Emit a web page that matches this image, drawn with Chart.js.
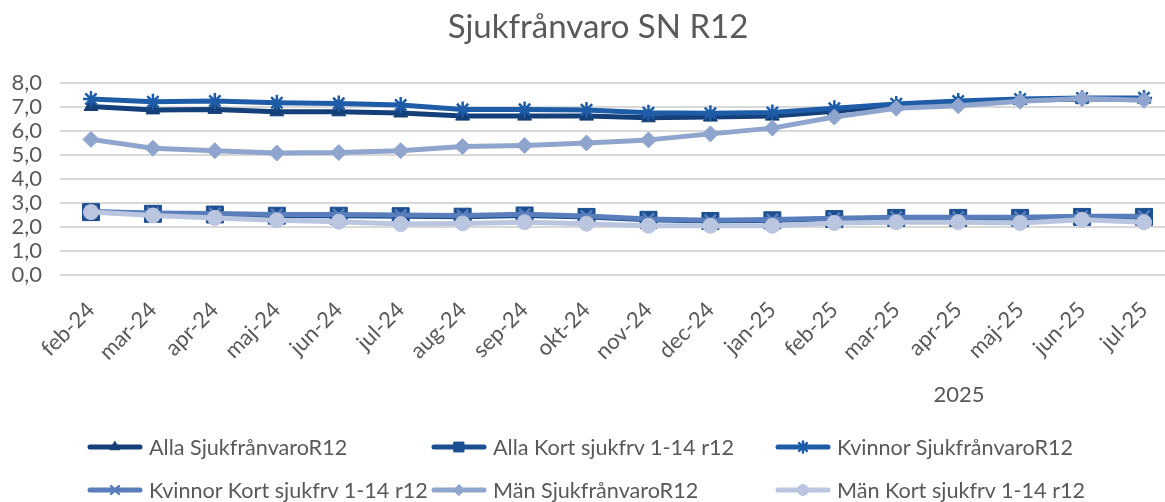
<!DOCTYPE html>
<html>
<head>
<meta charset="utf-8">
<script src="https://cdn.jsdelivr.net/npm/chart.js@4.4.1/dist/chart.umd.min.js"></script>
<style>
  html, body { margin:0; padding:0; background:#fff; overflow:hidden; width:1165px; height:502px; }
  #wrap { position:relative; width:1196px; height:502px; }
  #c { position:absolute; left:0; top:0; }
  .txt { font-family: Lato, "Noto Sans", sans-serif; color:#595959; }
  #yr { position:absolute; font-size:22px; line-height:26px; left:959px; top:381px; transform:translateX(-50%); }
  .lg { position:absolute; display:flex; align-items:center; height:30px; font-size:21.6px; white-space:nowrap; }
  .lg canvas { display:block; margin-right:6px; }
</style>
</head>
<body>
<div id="wrap">
  <canvas id="c" width="1196" height="502"></canvas>
  <div id="yr" class="txt">2025</div>
  <div id="legend"></div>
</div>
<script>
// ---- data ----
const categories = ['feb-24','mar-24','apr-24','maj-24','jun-24','jul-24','aug-24','sep-24','okt-24','nov-24','dec-24','jan-25','feb-25','mar-25','apr-25','maj-25','jun-25','jul-25'];
const seriesNames = ['Alla SjukfrånvaroR12','Alla Kort sjukfrv 1-14 r12','Kvinnor SjukfrånvaroR12','Kvinnor Kort sjukfrv 1-14 r12','Män SjukfrånvaroR12','Män Kort sjukfrv 1-14 r12'];
const allaSjuk     = [7.02, 6.88, 6.90, 6.80, 6.80, 6.75, 6.62, 6.62, 6.62, 6.55, 6.58, 6.62, 6.82, 7.05, 7.18, 7.28, 7.33, 7.33];
const allaKort     = [2.62, 2.55, 2.52, 2.47, 2.47, 2.45, 2.43, 2.48, 2.42, 2.30, 2.25, 2.28, 2.33, 2.38, 2.38, 2.38, 2.42, 2.42];
const kvinnorSjuk  = [7.33, 7.22, 7.25, 7.18, 7.15, 7.08, 6.90, 6.90, 6.88, 6.76, 6.74, 6.77, 6.95, 7.13, 7.25, 7.33, 7.37, 7.38];
const kvinnorKort  = [2.65, 2.58, 2.56, 2.52, 2.52, 2.50, 2.48, 2.53, 2.46, 2.33, 2.28, 2.31, 2.36, 2.41, 2.41, 2.41, 2.45, 2.45];
const manSjuk      = [5.65, 5.28, 5.18, 5.08, 5.10, 5.18, 5.35, 5.40, 5.50, 5.63, 5.88, 6.12, 6.58, 6.95, 7.05, 7.24, 7.35, 7.28];
const manKort      = [2.62, 2.48, 2.38, 2.28, 2.22, 2.12, 2.15, 2.20, 2.14, 2.05, 2.05, 2.05, 2.17, 2.20, 2.20, 2.17, 2.30, 2.20];
const yTickLabels  = ['0,0','1,0','2,0','3,0','4,0','5,0','6,0','7,0','8,0'];
const chartTitle   = 'Sjukfrånvaro SN R12';

// ---- styles ----
const FONT = 'Lato, "Noto Sans", sans-serif';
const GREY = '#595959';
const seriesValues = [allaSjuk, allaKort, kvinnorSjuk, kvinnorKort, manSjuk, manKort];
const colors = ['#143F78', '#1B4F91', '#1E5CA8', '#5A7EBB', '#8FA5CD', '#BAC5DF'];
const styles = [
  { pointStyle:'triangle', radius:8,   bw:1 },
  { pointStyle:'rect',     radius:12,  bw:1 },
  { pointStyle:'star',     radius:8,   bw:2.5 },
  { pointStyle:'crossRot', radius:8,   bw:2.5 },
  { pointStyle:'rectRot',  radius:8,   bw:1 },
  { pointStyle:'circle',   radius:7.5, bw:1 }
];

const datasets = seriesNames.map((name, i) => ({
  label: name,
  data: seriesValues[i],
  yAxisID: 'y',
  borderColor: colors[i],
  backgroundColor: colors[i],
  borderWidth: 5,
  borderJoinStyle: 'round',
  borderCapStyle: 'round',
  tension: 0,
  pointStyle: styles[i].pointStyle,
  pointRadius: styles[i].radius,
  pointBorderWidth: styles[i].bw,
  pointBackgroundColor: colors[i],
  pointBorderColor: colors[i],
  order: seriesNames.length - i
}));

new Chart(document.getElementById('c'), {
  type: 'line',
  data: { labels: categories, datasets },
  options: {
    responsive: false,
    animation: false,
    devicePixelRatio: 1,
    layout: { padding: 0 },
    plugins: {
      legend: { display: false },
      tooltip: { enabled: false },
      title: {
        display: true,
        text: chartTitle,
        color: GREY,
        font: { family: FONT, size: 33, weight: 'normal' },
        padding: { top: 8, bottom: 35.4 }
      }
    },
    scales: {
      y: {
        position: 'left',
        min: 0, max: 8,
        ticks: {
          stepSize: 1,
          autoSkip: false,
          color: GREY,
          font: { family: FONT, size: 22 },
          padding: 18,
          callback: (v) => yTickLabels[Math.round(v)]
        },
        grid: { color: '#D9D9D9', lineWidth: 2, drawTicks: false, tickLength: 0 },
        border: { display: false },
        afterFit: (s) => { s.width = 60; }
      },
      yRight: {
        type: 'linear',
        position: 'right',
        min: 0, max: 8,
        ticks: { display: false },
        grid: { display: false, drawTicks: false },
        border: { display: false },
        afterFit: (s) => { s.width = 21; }
      },
      x: {
        offset: true,
        ticks: {
          color: GREY,
          font: { family: FONT, size: 22 },
          maxRotation: 45, minRotation: 45,
          autoSkip: false,
          padding: 22
        },
        grid: { display: false, drawTicks: false, tickLength: 0, offset: true },
        border: { display: false },
        afterFit: (s) => { s.height = 227; }
      }
    }
  }
});

// ---- legend (built from the same series arrays) ----
const legend = document.getElementById('legend');
const colX = [87, 431, 775];
const rowY = [431.5, 475];
seriesNames.forEach((name, i) => {
  const item = document.createElement('div');
  item.className = 'lg txt';
  item.style.left = colX[i % 3] + 'px';
  item.style.top = rowY[Math.floor(i / 3)] + 'px';
  const cv = document.createElement('canvas');
  cv.width = 56; cv.height = 20;
  const ctx = cv.getContext('2d');
  ctx.strokeStyle = colors[i];
  ctx.fillStyle = colors[i];
  ctx.lineWidth = 5;
  ctx.lineCap = 'round';
  ctx.beginPath(); ctx.moveTo(3, 10); ctx.lineTo(53, 10); ctx.stroke();
  ctx.lineWidth = styles[i].bw;
  const r = styles[i].pointStyle === 'rect' ? 7 : 5.5;
  if (Chart.helpers && Chart.helpers.drawPoint) {
    Chart.helpers.drawPoint(ctx, { pointStyle: styles[i].pointStyle, radius: r, borderWidth: styles[i].bw, rotation: 0 }, 28, 10);
  }
  const span = document.createElement('span');
  span.textContent = name;
  item.appendChild(cv);
  item.appendChild(span);
  legend.appendChild(item);
});
</script>
</body>
</html>
